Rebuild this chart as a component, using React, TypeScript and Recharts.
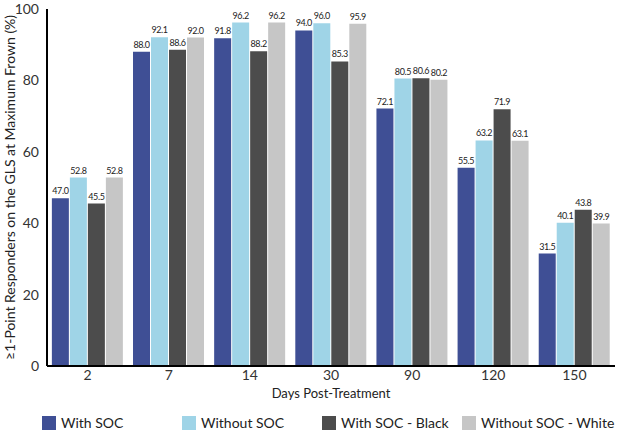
import { BarChart, Bar, XAxis, YAxis, Legend, LabelList } from "recharts";

const days = ["2", "7", "14", "30", "90", "120", "150"];
const withSoc = [47.0, 88.0, 91.8, 94.0, 72.1, 55.5, 31.5];
const withoutSoc = [52.8, 92.1, 96.2, 96.0, 80.5, 63.2, 40.1];
const withSocBlack = [45.5, 88.6, 88.2, 85.3, 80.6, 71.9, 43.8];
const withoutSocWhite = [52.8, 92.0, 96.2, 95.9, 80.2, 63.1, 39.9];
const yTicks = [0, 20, 40, 60, 80, 100];

const series = [
  { key: "withSoc", name: "With SOC", color: "#3f4f95" },
  { key: "withoutSoc", name: "Without SOC", color: "#9fd4e7" },
  { key: "withSocBlack", name: "With SOC - Black", color: "#4c4c4c" },
  { key: "withoutSocWhite", name: "Without SOC - White", color: "#c6c6c6" },
];

const data = days.map((day, i) => ({
  day,
  withSoc: withSoc[i],
  withoutSoc: withoutSoc[i],
  withSocBlack: withSocBlack[i],
  withoutSocWhite: withoutSocWhite[i],
}));

const font = "Lato, 'Open Sans', sans-serif";

function LegendRow() {
  return (
    <div
      style={{
        display: "flex",
        paddingLeft: 42,
        paddingTop: 16,
        fontFamily: font,
        fontSize: 14,
        color: "#222",
        whiteSpace: "nowrap",
      }}
    >
      {series.map((s) => (
        <div key={s.key} style={{ width: 140, flexShrink: 0, display: "flex", alignItems: "center" }}>
          <span
            style={{ width: 14, height: 14, flexShrink: 0, background: s.color, marginRight: 5, display: "inline-block" }}
          />
          {s.name}
        </div>
      ))}
    </div>
  );
}

export default function App() {
  return (
    <div style={{ position: "absolute", left: 0, top: 0, background: "#fff", overflow: "hidden" }}>
      <BarChart
        width={618}
        height={435}
        data={data}
        margin={{ top: 9, right: 3, left: 0, bottom: 0 }}
        barCategoryGap="6%"
        barGap={1}
      >
        <XAxis
          dataKey="day"
          tickLine={false}
          axisLine={{ stroke: "#000", strokeWidth: 2 }}
          tick={{ fill: "#333", fontSize: 14, fontFamily: font, dy: -4 }}
          height={32}
          label={{ value: "Days Post-Treatment", position: "insideBottom", offset: 0, fill: "#222", fontSize: 13, fontFamily: font }}
        />
        <YAxis
          domain={[0, 100]}
          ticks={yTicks}
          interval={0}
          tickLine={false}
          axisLine={{ stroke: "#000", strokeWidth: 2 }}
          tick={{ fill: "#333", fontSize: 14, fontFamily: font }}
          width={47}
          label={{
            value: "≥1-Point Responders on the GLS at Maximum Frown (%)",
            angle: -90,
            position: "insideLeft",
            offset: 10,
            style: { textAnchor: "middle", fill: "#222", fontSize: 14, fontFamily: font },
          }}
        />
        <Legend verticalAlign="bottom" height={37} content={() => <LegendRow />} />
        {series.map((s) => (
          <Bar key={s.key} dataKey={s.key} name={s.name} fill={s.color} isAnimationActive={false}>
            <LabelList
              dataKey={s.key}
              position="top"
              offset={4}
              formatter={(v: any) => Number(v).toFixed(1)}
              style={{ fill: "#222", fontSize: 9, fontFamily: font, letterSpacing: -0.4 }}
            />
          </Bar>
        ))}
      </BarChart>
    </div>
  );
}
